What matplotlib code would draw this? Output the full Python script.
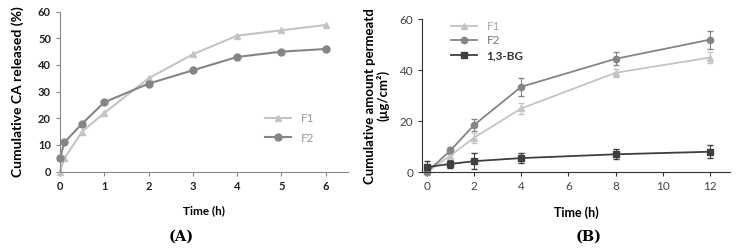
import matplotlib

matplotlib.use("Agg")
import matplotlib.pyplot as plt
from matplotlib.lines import Line2D

plt.rcParams["font.family"] = ["Lato", "DejaVu Sans"]

# Panel A: release
time_a = [0, 0.1, 0.5, 1, 2, 3, 4, 5, 6]
f1_release = [0, 5, 15, 22, 35, 44, 51, 53, 55]
f2_release = [5, 11, 18, 26, 33, 38, 43, 45, 46]

# Panel B: permeation
time_b = [0, 1, 2, 4, 8, 12]
f1_perm = [0, 6.5, 13.5, 25, 39, 45]
f1_err = [0, 1.5, 2, 2, 1.5, 2]
f2_perm = [0, 8.5, 18.5, 33.5, 44.5, 52]
f2_err = [0, 1.5, 2.5, 3.5, 2.5, 3.5]
bg_perm = [2, 3.2, 4.3, 5.5, 7, 8]
bg_err = [2.5, 1.5, 3.2, 2, 2, 2.5]

C_F1 = "#c4c4c4"
C_F2 = "#858585"
C_BG = "#3f3f3f"
SPINE = "#888888"

fig = plt.figure(figsize=(7.38, 2.48), dpi=100)
ax_a = fig.add_axes([0.0813, 0.308, 0.390, 0.645])
ax_b = fig.add_axes([0.572, 0.306, 0.417, 0.616])

for ax in (ax_a, ax_b):
    for side in ("top", "right"):
        ax.spines[side].set_visible(False)
    for side in ("left", "bottom"):
        ax.spines[side].set_color(SPINE)
        ax.spines[side].set_linewidth(0.8)
    ax.tick_params(colors=SPINE, labelcolor="#222222", length=3, width=0.8)
ax_b.spines["left"].set_color("#333333")
ax_b.spines["bottom"].set_color("#333333")
ax_b.tick_params(colors="#333333")

# --- A ---
ax_a.plot(time_a, f1_release, color=C_F1, marker="^", markersize=5,
          linewidth=1.5, label="F1", clip_on=False)
ax_a.plot(time_a, f2_release, color=C_F2, marker="o", markersize=5,
          linewidth=1.5, label="F2", clip_on=False)
ax_a.set_xlim(0, 6.5)
ax_a.set_ylim(0, 60)
ax_a.set_xticks(range(7))
ax_a.set_yticks(range(0, 61, 10))
for lab in ax_a.get_xticklabels() + ax_a.get_yticklabels():
    lab.set_fontweight("bold")
    lab.set_fontsize(8)
ax_a.set_xlabel("Time (h)", fontsize=8.5, fontweight="bold", labelpad=10)
ax_a.set_ylabel("Cumulative CA released (%)", fontsize=10,
                fontweight="bold", labelpad=10)
leg_a = ax_a.legend(loc="center right", bbox_to_anchor=(0.92, 0.27),
                    frameon=False, fontsize=8.5, handlelength=2.2,
                    labelspacing=0.7)
for txt in leg_a.get_texts():
    txt.set_color("#999999")

# --- B ---
ax_b.errorbar(time_b, f1_perm, yerr=f1_err, color=C_F1, marker="^",
              markersize=4.5, linewidth=1.3, capsize=2, elinewidth=0.8,
              clip_on=False)
ax_b.errorbar(time_b, f2_perm, yerr=f2_err, color=C_F2, marker="o",
              markersize=4.5, linewidth=1.3, capsize=2, elinewidth=0.8,
              clip_on=False)
ax_b.errorbar(time_b, bg_perm, yerr=bg_err, color=C_BG, marker="s",
              markersize=4, linewidth=1.3, capsize=2, elinewidth=0.8,
              clip_on=False)
ax_b.set_xlim(-0.2, 12.85)
ax_b.set_ylim(0, 60)
ax_b.set_xticks(range(0, 13, 2))
ax_b.set_yticks(range(0, 61, 20))
ax_b.tick_params(labelsize=8.5, labelcolor="#444444")
ax_b.set_xlabel("Time (h)", fontsize=9, fontweight="bold", labelpad=10)
ax_b.set_ylabel("Cumulative amount permeatd\n(µg/cm²)", fontsize=9.5,
                fontweight="bold", labelpad=7, linespacing=1.05)
handles = [
    Line2D([], [], color=C_F1, marker="^", markersize=4.5, linewidth=1.3),
    Line2D([], [], color=C_F2, marker="o", markersize=4.5, linewidth=1.3),
    Line2D([], [], color=C_BG, marker="s", markersize=4, linewidth=1.3),
]
leg_b = ax_b.legend(handles, ["F1", "F2", "1,3-BG"], loc="upper left",
                    bbox_to_anchor=(0.06, 1.06), frameon=False, fontsize=8.5,
                    handlelength=2.2, labelspacing=0.3)
leg_colors = ["#aaaaaa", "#777777", "#333333"]
for txt, col in zip(leg_b.get_texts(), leg_colors):
    txt.set_color(col)
leg_b.get_texts()[2].set_fontweight("bold")

fig.text(0.246, 0.045, "(A)", ha="center", va="center", fontsize=10.5,
         fontweight="bold", family="DejaVu Serif")
fig.text(0.798, 0.045, "(B)", ha="center", va="center", fontsize=10.5,
         fontweight="bold", family="DejaVu Serif")

fig.savefig("out.png", dpi=100)
